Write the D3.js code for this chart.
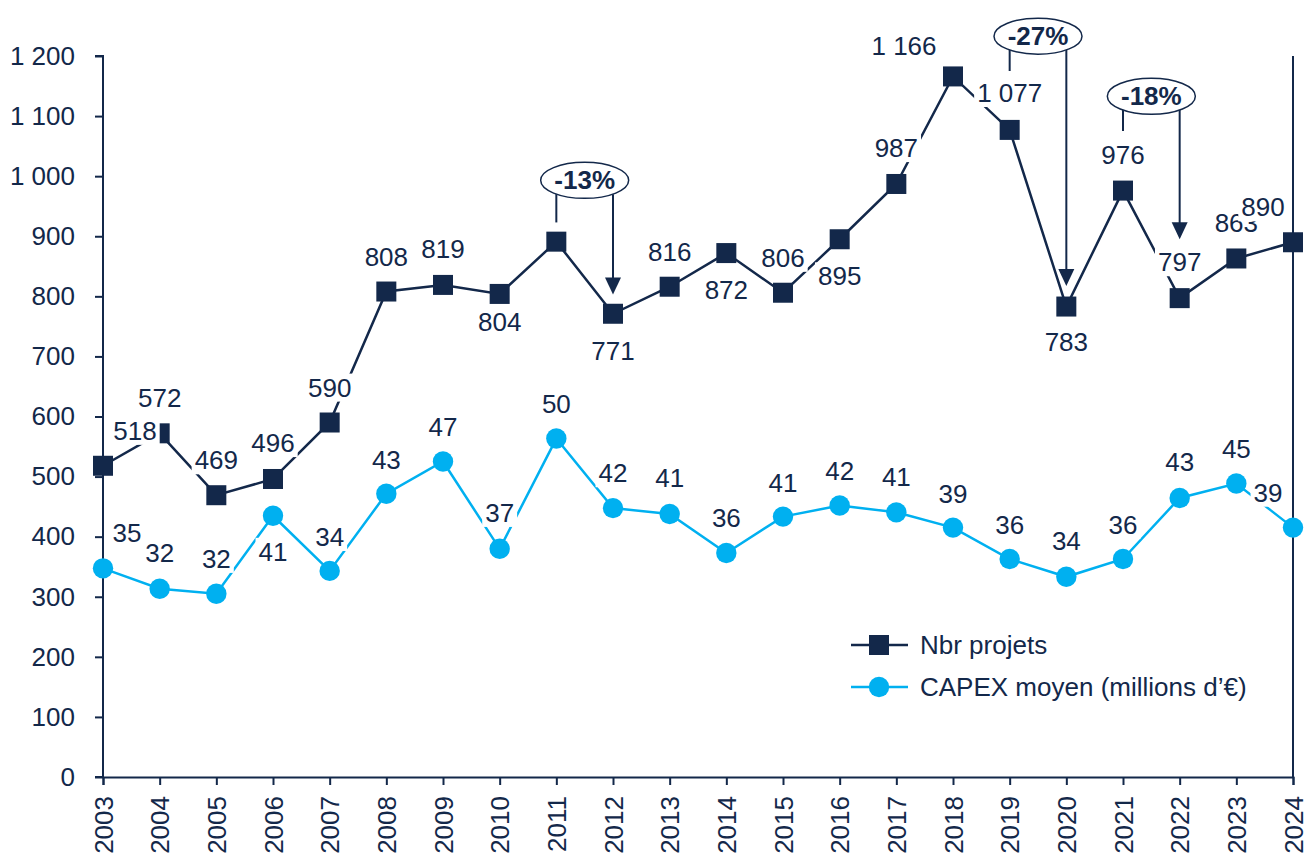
<!DOCTYPE html>
<html>
<head>
<meta charset="utf-8">
<script src="https://cdn.jsdelivr.net/npm/d3@7"></script>
<style>
  body { margin: 0; background: #fff; }
  svg { display: block; font-family: "Liberation Sans", Arial, sans-serif; }
</style>
</head>
<body>
<svg id="chart" width="1306" height="859"></svg>
<script>
// data
const years = [2003, 2004, 2005, 2006, 2007, 2008, 2009, 2010, 2011, 2012, 2013,
  2014, 2015, 2016, 2017, 2018, 2019, 2020, 2021, 2022, 2023, 2024];
const projets = [518, 572, 469, 496, 590, 808, 819, 804, 891, 771, 816,
  872, 806, 895, 987, 1166, 1077, 783, 976, 797, 863, 890];
const capex = [34.6, 32.2, 31.6, 40.8, 34.3, 43.4, 47.2, 36.9, 49.9, 41.7, 41.0,
  36.4, 40.7, 42.0, 41.2, 39.4, 35.7, 33.6, 35.7, 42.9, 44.6, 39.4];
const projetsShown = years.map(y => y != 2011);
const yTicks = [0, 100, 200, 300, 400, 500, 600, 700, 800, 900, 1000, 1100, 1200];
const seriesNames = ['Nbr projets', 'CAPEX moyen (millions d\u2019\u20ac)'];
const variations = [
  { from: 2011, to: 2012, text: '-13%' },
  { from: 2019, to: 2020, text: '-27%' },
  { from: 2021, to: 2022, text: '-18%' }
];

// layout: label offsets [dx, dy] in px, annotation heights in axis units
const projetsLabelPos = [[32, -35], [0, -35], [0, -35], [0, -36], [0, -35], [0, -35], [0, -36], [0, 28],
  [0, 0], [0, 37], [0, -35], [0, 37], [0, -35], [0, 37], [0, -36], [-49, -31], [0, -37], [0, 35],
  [0, -36], [0, -36], [0, -36], [-30, -35]];
const capexLabelPos = [[24, -35], [0, -36], [0, -35], [0, 36], [0, -34], [0, -34], [0, -35], [0, -36],
  [0, -35], [0, -35], [0, -36], [0, -35], [0, -34], [0, -35], [0, -35], [0, -34], [0, -34], [0, -36],
  [0, -34], [0, -36], [0, -35], [-25, -35]];
const variationPos = [
  { label: 993, start: 923, end: 803 },
  { label: 1233, start: 1175, end: 817 },
  { label: 1133, start: 1075, end: 895 }
];

const navy = '#13284a';
const cyan = '#00b0f0';
const fontSize = 26;

const svg = d3.select('#chart');

const x = d3.scalePoint().domain(years).range([103, 1293]);
const y = d3.scaleLinear().domain([0, 1200]).range([777, 56]);
const y2 = d3.scaleLinear().domain([10, 95]).range([777, 56]);

// axes
const yAxis = svg.append('g')
  .attr('transform', 'translate(103,0)')
  .call(d3.axisLeft(y).tickValues(yTicks).tickSize(8).tickPadding(20)
    .tickFormat(d => d3.format(',')(d).replace(',', ' ')));
yAxis.selectAll('text').attr('font-size', fontSize).attr('fill', navy).attr('font-family', null);

const xAxis = svg.append('g')
  .attr('transform', 'translate(0,777)')
  .call(d3.axisBottom(x).tickSize(8).tickPadding(0));
xAxis.selectAll('text')
  .attr('font-size', fontSize).attr('fill', navy).attr('font-family', null)
  .attr('text-anchor', 'end')
  .attr('transform', 'translate(0,19) rotate(-90)')
  .attr('x', 0).attr('y', 0).attr('dy', '0.35em');

svg.selectAll('.domain, .tick line').attr('stroke', navy).attr('stroke-width', 2);
yAxis.select('.domain').attr('d', 'M-8,56H0V777H-8');

// secondary axis line, no ticks
svg.append('line')
  .attr('x1', x(2024)).attr('x2', x(2024))
  .attr('y1', 56).attr('y2', 777)
  .attr('stroke', navy).attr('stroke-width', 2);

// series lines
svg.append('path')
  .datum(capex)
  .attr('fill', 'none').attr('stroke', cyan).attr('stroke-width', 2.5)
  .attr('d', d3.line().x((d, i) => x(years[i])).y(d => y2(d)));

svg.append('path')
  .datum(projets)
  .attr('fill', 'none').attr('stroke', navy).attr('stroke-width', 2.5)
  .attr('d', d3.line().x((d, i) => x(years[i])).y(d => y(d)));

// markers
svg.append('g').selectAll('circle')
  .data(capex).enter().append('circle')
  .attr('cx', (d, i) => x(years[i]))
  .attr('cy', d => y2(d))
  .attr('r', 10.2)
  .attr('fill', cyan);

svg.append('g').selectAll('rect')
  .data(projets).enter().append('rect')
  .attr('x', (d, i) => x(years[i]) - 10)
  .attr('y', d => y(d) - 10)
  .attr('width', 20).attr('height', 20)
  .attr('fill', navy);

// data labels with white box behind
function addLabels(values, pos, yScale, fmt, shown) {
  const g = svg.append('g');
  values.forEach((v, i) => {
    if (shown && !shown[i]) return;
    const lg = g.append('g')
      .attr('transform', `translate(${x(years[i]) + pos[i][0]},${yScale(v) + pos[i][1]})`);
    const box = lg.append('rect').attr('fill', '#fff');
    const t = lg.append('text')
      .attr('text-anchor', 'middle').attr('dy', '0.35em')
      .attr('font-size', fontSize).attr('fill', navy)
      .text(fmt(v));
    const b = t.node().getBBox();
    box.attr('x', b.x - 3).attr('y', b.y + 1).attr('width', b.width + 6).attr('height', b.height - 2);
  });
}

const fmtThousands = d => d3.format(',')(d).replace(',', ' ');
addLabels(capex, capexLabelPos, y2, d => d3.format('.0f')(d));
addLabels(projets, projetsLabelPos, y, fmtThousands, projetsShown);

// variation callouts
const ann = svg.append('g');
variations.forEach((v, k) => {
  const p = variationPos[k];
  const x1 = x(v.from), x2 = x(v.to);
  const cx = (x1 + x2) / 2, cy = y(p.label);
  const rx = 44, ry = 18;
  const edge = xx => cy + ry * Math.sqrt(Math.max(0, 1 - ((xx - cx) / rx) ** 2));

  ann.append('line')
    .attr('x1', x1).attr('x2', x1)
    .attr('y1', edge(x1)).attr('y2', y(p.start))
    .attr('stroke', navy).attr('stroke-width', 2);

  const tip = y(p.end);
  ann.append('line')
    .attr('x1', x2).attr('x2', x2)
    .attr('y1', edge(x2)).attr('y2', tip - 12)
    .attr('stroke', navy).attr('stroke-width', 2);
  ann.append('path')
    .attr('d', `M${x2 - 8},${tip - 17}L${x2 + 8},${tip - 17}L${x2},${tip}Z`)
    .attr('fill', navy);

  ann.append('ellipse')
    .attr('cx', cx).attr('cy', cy).attr('rx', rx).attr('ry', ry)
    .attr('fill', '#fff').attr('stroke', navy).attr('stroke-width', 1.5);
  ann.append('text')
    .attr('x', cx).attr('y', cy).attr('dy', '0.35em')
    .attr('text-anchor', 'middle')
    .attr('font-size', fontSize).attr('font-weight', 'bold').attr('fill', navy)
    .text(v.text);
});

// legend
const legend = svg.append('g').attr('transform', 'translate(851,645)');
seriesNames.forEach((name, i) => {
  const row = legend.append('g').attr('transform', `translate(0,${i * 42})`);
  row.append('line')
    .attr('x1', 0).attr('x2', 57)
    .attr('stroke', i == 0 ? navy : cyan).attr('stroke-width', 2.5);
  if (i == 0) {
    row.append('rect').attr('x', 18).attr('y', -10).attr('width', 20).attr('height', 20).attr('fill', navy);
  } else {
    row.append('circle').attr('cx', 28).attr('r', 10.2).attr('fill', cyan);
  }
  row.append('text')
    .attr('x', 69).attr('dy', '0.35em')
    .attr('font-size', fontSize).attr('fill', navy)
    .text(name);
});
</script>
</body>
</html>
